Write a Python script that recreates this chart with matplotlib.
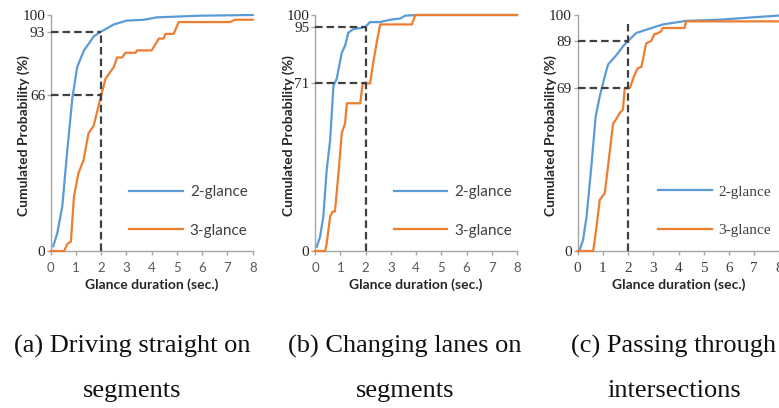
import matplotlib
matplotlib.use("Agg")
import matplotlib.pyplot as plt

# Cumulative glance-duration curves (x: seconds, y: percent)
a_two_x = [0.1, 0.26, 0.46, 0.66, 0.86, 1.05, 1.32, 1.71, 2.0, 2.5, 3.0, 3.7, 4.2, 5.9, 8.0]
a_two_y = [2, 7.5, 19, 43, 65, 78, 85, 91, 93, 96, 97.6, 98, 99, 99.7, 100]
a_three_x = [0.0, 0.53, 0.66, 0.8, 0.92, 1.1, 1.3, 1.5, 1.7, 2.0, 2.17, 2.5, 2.63, 2.83, 2.96,
             3.36, 3.42, 4.0, 4.28, 4.47, 4.54, 4.87, 5.07, 7.1, 7.3, 8.0]
a_three_y = [0, 0, 3, 4, 23, 33, 38.5, 50, 53, 66, 73, 78, 82, 82, 84,
             84, 85, 85, 90, 90, 92, 92, 97, 97, 98, 98]

b_two_x = [0.07, 0.2, 0.33, 0.46, 0.6, 0.73, 0.86, 1.06, 1.19, 1.32, 1.52, 1.85, 2.0, 2.18,
           2.58, 2.98, 3.37, 3.57, 3.97, 8.0]
b_two_y = [1.8, 6, 14.6, 34, 47, 70, 73, 84, 87, 92.5, 94, 94.6, 95, 97,
           97, 98, 98.5, 99.7, 100, 100]
b_three_x = [0.0, 0.4, 0.46, 0.6, 0.7, 0.79, 0.93, 1.06, 1.19, 1.26, 1.79, 1.89, 2.18, 2.31,
             2.45, 2.58, 3.84, 3.97, 8.0]
b_three_y = [0, 0, 3, 14.6, 16.7, 16.7, 33, 50, 54, 62.6, 62.6, 71, 71, 80,
             88.7, 96, 96, 100, 100]

c_two_x = [0.07, 0.22, 0.36, 0.55, 0.72, 0.88, 1.08, 1.21, 1.54, 1.8, 2.0, 2.33, 2.79, 3.38,
           4.3, 5.62, 6.93, 7.92, 8.0]
c_two_y = [0, 4.7, 14.6, 36, 57, 65.5, 74, 79, 83, 86.7, 89, 92.4, 94, 96,
           97.5, 98, 99, 99.7, 99.8]
c_three_x = [0.0, 0.62, 0.75, 0.88, 1.08, 1.21, 1.41, 1.54, 1.67, 1.8, 1.87, 2.07, 2.26, 2.39,
             2.53, 2.72, 2.92, 3.05, 3.12, 3.3, 3.38, 4.24, 4.3, 8.0]
c_three_y = [0, 0, 10, 21.6, 24.5, 36, 54, 56, 58.4, 60, 69, 69, 74.7, 77.5,
             78, 88, 89, 92, 92, 93, 94.5, 94.5, 97.3, 97.3]

# Reference values read at 2 seconds for each scenario
marks_two = [93, 95, 89]
marks_three = [66, 71, 69]
vline_top = [93, 95, 96]
mark_x = 2

x_ticks = list(range(0, 9))
series_labels = ["2-glance", "3-glance"]
caption_first = ["(a) Driving straight on", "(b) Changing lanes on", "(c) Passing through"]
caption_second = ["segments", "segments", "intersections"]

BLUE = "#5B9BD5"
ORANGE = "#ED7D31"
DASH = "#404040"
SPINE = "#A6A6A6"
SANS = "Lato"
SERIF = "Liberation Serif"

fig = plt.figure(figsize=(7.79, 4.08), dpi=100)

W, H = 779.0, 408.0
lefts = [50.7, 315.0, 577.5]
ax_w = 202.0
y_top, y_bot = 15.0, 251.0
cap_centers = [132, 405, 674]

panels = [
    (a_two_x, a_two_y, a_three_x, a_three_y),
    (b_two_x, b_two_y, b_three_x, b_three_y),
    (c_two_x, c_two_y, c_three_x, c_three_y),
]

for i, (tx, ty, hx, hy) in enumerate(panels):
    ax = fig.add_axes([lefts[i] / W, 1 - y_bot / H, ax_w / W, (y_bot - y_top) / H])
    ax.set_xlim(0, 8)
    ax.set_ylim(0, 100)

    ax.plot(tx, ty, color=BLUE, lw=1.6, label=series_labels[0], clip_on=False, zorder=3)
    ax.plot(hx, hy, color=ORANGE, lw=1.6, label=series_labels[1], clip_on=False, zorder=3)

    dash = dict(color=DASH, lw=1.6, ls=(0, (3.4, 1.8)), zorder=4, clip_on=False)
    ax.plot([0, mark_x], [marks_two[i]] * 2, **dash)
    ax.plot([0, mark_x], [marks_three[i]] * 2, **dash)
    ax.plot([mark_x, mark_x], [0, vline_top[i]], **dash)

    for s in ["top", "right"]:
        ax.spines[s].set_visible(False)
    for s in ["left", "bottom"]:
        ax.spines[s].set_color(SPINE)
        ax.spines[s].set_linewidth(1.0)

    ax.set_xticks(x_ticks)
    ax.set_yticks([0, marks_three[i], marks_two[i], 100])
    ax.set_yticklabels(["0", str(marks_three[i]), str(marks_two[i]), "100"])
    ax.tick_params(axis="x", length=3, width=1.0, color=SPINE, pad=5)
    ax.tick_params(axis="y", length=3, width=1.0, color=SPINE, pad=1)

    xfont = SERIF if i == 2 else SANS
    for lab in ax.get_xticklabels():
        lab.set_fontfamily(xfont)
        lab.set_fontsize(11 if i == 2 else 9.5)
        lab.set_color("#404040" if i == 2 else "#595959")
    for lab in ax.get_yticklabels():
        lab.set_fontfamily(SERIF)
        lab.set_fontsize(11)
        lab.set_color("#262626")

    ax.set_xlabel("Glance duration (sec.)", fontfamily=SANS, fontweight="bold",
                  fontsize=10, color="#262626")
    ax.xaxis.set_label_coords(0.5, -0.115)
    ax.set_ylabel("Cumulated Probability (%)", fontfamily=SANS, fontweight="bold",
                  fontsize=10, color="#262626")
    ax.yaxis.set_label_coords(-0.1, 0.49)

    leg_font = SERIF if i == 2 else SANS
    leg = ax.legend(loc="upper left", bbox_to_anchor=(0.39 if i < 2 else 0.4, 0.28),
                    frameon=False, handlelength=3.5, handletextpad=0.45,
                    labelspacing=1.62, borderpad=0, borderaxespad=0,
                    prop={"family": leg_font, "size": 11})
    for t in leg.get_texts():
        t.set_color("#404040")

    fig.text(cap_centers[i] / W, 1 - 353 / H, caption_first[i], ha="center", va="baseline",
             fontfamily=SERIF, fontsize=19, color="#111111")
    fig.text(cap_centers[i] / W, 1 - 397 / H, caption_second[i], ha="center", va="baseline",
             fontfamily=SERIF, fontsize=19, color="#111111")

fig.savefig("out.png", dpi=100)
